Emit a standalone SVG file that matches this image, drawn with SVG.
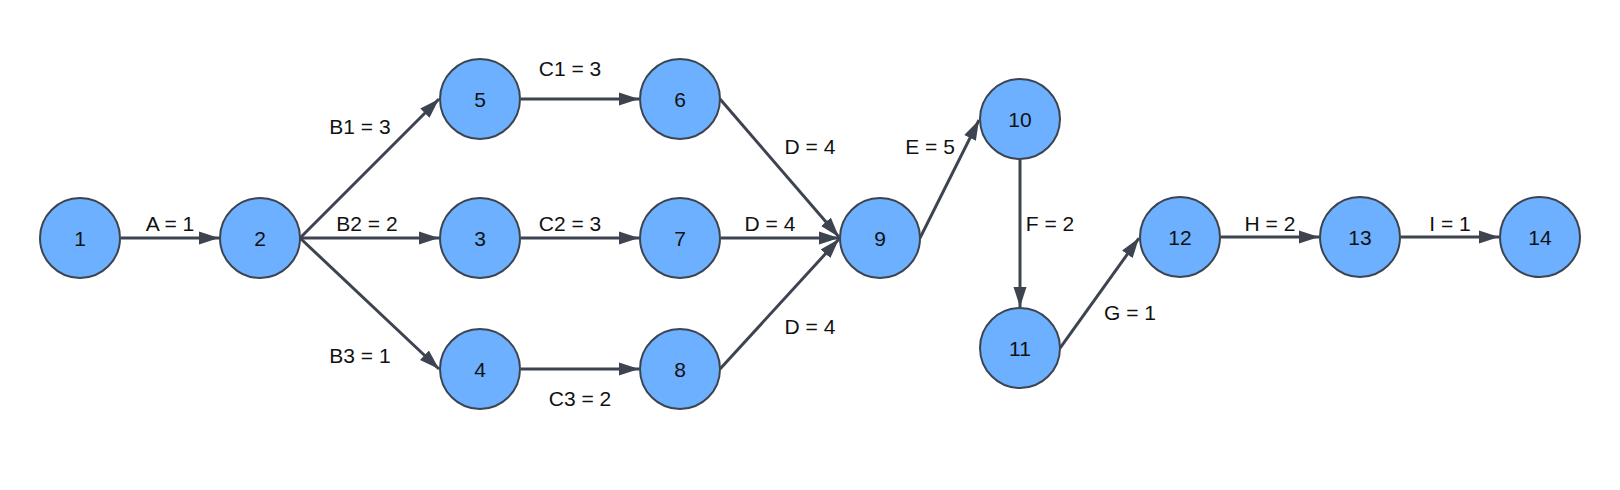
<svg xmlns="http://www.w3.org/2000/svg" width="1620" height="490" viewBox="0 0 1620 490">
<style>
.n circle{fill:#6cb0ff;stroke:#3d4450;stroke-width:2}
.n text{font-family:"Liberation Sans",Arial,sans-serif;font-size:21px;fill:#111;text-anchor:middle;dominant-baseline:central}
.e line{stroke:#3d4450;stroke-width:3;marker-end:url(#ah)}
.lbl{font-family:"Liberation Sans",Arial,sans-serif;font-size:21px;fill:#111;text-anchor:middle}
</style>
<defs>
<marker id="ah" markerUnits="userSpaceOnUse" markerWidth="22" markerHeight="14" refX="20" refY="7" orient="auto">
<path d="M0,0.5 L20,7 L0,13.5 Z" fill="#3d4450"/>
</marker>
</defs>
<rect width="1620" height="490" fill="#fff"/>
<g id="connectors" class="e">
<line x1="121" y1="238" x2="219" y2="238"/>
<line x1="300" y1="238" x2="439" y2="99"/>
<line x1="300" y1="238" x2="439" y2="238"/>
<line x1="300" y1="238" x2="439" y2="369"/>
<line x1="521" y1="99" x2="639" y2="99"/>
<line x1="521" y1="238" x2="639" y2="238"/>
<line x1="521" y1="369" x2="639" y2="369"/>
<line x1="720" y1="99" x2="839" y2="237"/>
<line x1="721" y1="238" x2="839" y2="238"/>
<line x1="720" y1="369" x2="839" y2="239"/>
<line x1="920" y1="238" x2="979" y2="120"/>
<line x1="1020" y1="160" x2="1020" y2="307"/>
<line x1="1060" y1="348" x2="1139" y2="238"/>
<line x1="1221" y1="237" x2="1319" y2="237"/>
<line x1="1401" y1="237" x2="1499" y2="237"/>
</g>
<g id="edge-labels">
<text class="lbl" x="170" y="231">A = 1</text>
<text class="lbl" x="360" y="134">B1 = 3</text>
<text class="lbl" x="367" y="231">B2 = 2</text>
<text class="lbl" x="360" y="363">B3 = 1</text>
<text class="lbl" x="570" y="76">C1 = 3</text>
<text class="lbl" x="570" y="231">C2 = 3</text>
<text class="lbl" x="580" y="406">C3 = 2</text>
<text class="lbl" x="810" y="154">D = 4</text>
<text class="lbl" x="770" y="231">D = 4</text>
<text class="lbl" x="810" y="334">D = 4</text>
<text class="lbl" x="930" y="154">E = 5</text>
<text class="lbl" x="1050" y="231">F = 2</text>
<text class="lbl" x="1130" y="320">G = 1</text>
<text class="lbl" x="1270" y="231">H = 2</text>
<text class="lbl" x="1450" y="231">I = 1</text>
</g>
<g id="node1" class="n"><circle cx="80" cy="238" r="40"/><text x="80" y="238">1</text></g>
<g id="node2" class="n"><circle cx="260" cy="238" r="40"/><text x="260" y="238">2</text></g>
<g id="node3" class="n"><circle cx="480" cy="238" r="40"/><text x="480" y="238">3</text></g>
<g id="node4" class="n"><circle cx="480" cy="369" r="40"/><text x="480" y="369">4</text></g>
<g id="node5" class="n"><circle cx="480" cy="99" r="40"/><text x="480" y="99">5</text></g>
<g id="node6" class="n"><circle cx="680" cy="99" r="40"/><text x="680" y="99">6</text></g>
<g id="node7" class="n"><circle cx="680" cy="238" r="40"/><text x="680" y="238">7</text></g>
<g id="node8" class="n"><circle cx="680" cy="369" r="40"/><text x="680" y="369">8</text></g>
<g id="node9" class="n"><circle cx="880" cy="238" r="40"/><text x="880" y="238">9</text></g>
<g id="node10" class="n"><circle cx="1020" cy="119" r="40"/><text x="1020" y="119">10</text></g>
<g id="node11" class="n"><circle cx="1020" cy="348" r="40"/><text x="1020" y="348">11</text></g>
<g id="node12" class="n"><circle cx="1180" cy="237" r="40"/><text x="1180" y="237">12</text></g>
<g id="node13" class="n"><circle cx="1360" cy="237" r="40"/><text x="1360" y="237">13</text></g>
<g id="node14" class="n"><circle cx="1540" cy="237" r="40"/><text x="1540" y="237">14</text></g>
</svg>
